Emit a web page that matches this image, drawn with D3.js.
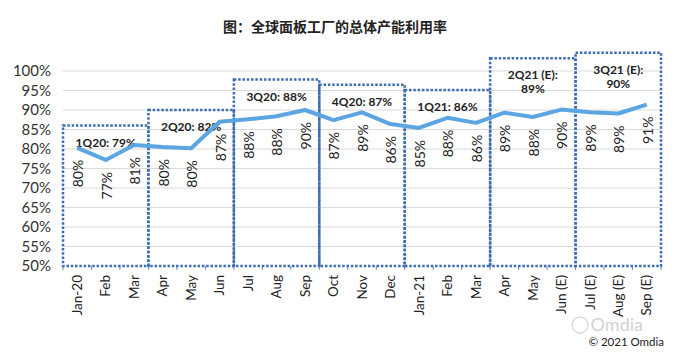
<!DOCTYPE html>
<html>
  <head>
    <meta charset="utf-8">
    <title>全球面板工厂的总体产能利用率</title>
    <script src="https://d3js.org/d3.v7.min.js"></script>
    <style>
      body { margin: 0; background: #fff; }
      svg { display: block; }
    </style>
  </head>
  <body>
    <script>
      // monthly utilisation
      const months = ['Jan-20', 'Feb', 'Mar', 'Apr', 'May', 'Jun', 'Jul', 'Aug', 'Sep', 'Oct', 'Nov', 'Dec',
                      'Jan-21', 'Feb', 'Mar', 'Apr', 'May', 'Jun (E)', 'Jul (E)', 'Aug (E)', 'Sep (E)'];
      const utilisation = [80.3, 77.2, 81, 80.5, 80.2, 87, 87.6, 88.4, 90, 87.4, 89.4, 86.4,
                           85.4, 88, 86.7, 89.3, 88.2, 90.1, 89.4, 89.1, 91.4];
      const pointLabels = ['80%', '77%', '81%', '80%', '80%', '87%', '88%', '88%', '90%', '87%', '89%', '86%',
                           '85%', '88%', '86%', '89%', '88%', '90%', '89%', '89%', '91%'];
      const quarterLabels = [['1Q20: 79%'], ['2Q20: 82%'], ['3Q20: 88%'], ['4Q20: 87%'], ['1Q21: 86%'],
                             ['2Q21 (E):', '89%'], ['3Q21 (E):', '90%']];
      const quarterTops = [86, 90, 97.8, 96.5, 95.1, 103.3, 104.7];
      const yTicks = [50, 55, 60, 65, 70, 75, 80, 85, 90, 95, 100];

      const w = 679, h = 352;
      const plotLeft = 63, plotRight = 661, plotTop = 71, plotBottom = 266;
      const boxColor = '#3d6db3';
      const lineColor = '#5aa5e2';
      const font = 'Lato, "Noto Sans", sans-serif';

      const svg = d3.select('body').append('svg')
                    .attr('width', w)
                    .attr('height', h);

      const idx = months.map((m, i) => i);
      const xScale = d3.scaleBand().domain(idx).range([plotLeft, plotRight]);
      const yScale = d3.scaleLinear().domain([50, 100]).range([plotBottom, plotTop]);

      // title
      svg.append('text')
         .attr('x', 335).attr('y', 32)
         .attr('text-anchor', 'middle')
         .style('font-family', '"Noto Sans CJK SC", sans-serif')
         .style('font-weight', 'bold')
         .style('font-size', '14px')
         .style('fill', '#222')
         .text('图：全球面板工厂的总体产能利用率');

      // gridlines
      svg.append('g').selectAll('line')
         .data(yTicks.slice(1))
         .enter().append('line')
         .attr('x1', plotLeft).attr('x2', plotRight)
         .attr('y1', d => yScale(d)).attr('y2', d => yScale(d))
         .attr('stroke', '#dadada').attr('stroke-width', 1);

      // y axis
      const yAxis = d3.axisLeft(yScale).tickValues(yTicks).tickFormat(d => d + '%').tickSize(0).tickPadding(12);
      const yG = svg.append('g').attr('transform', `translate(${plotLeft}, 0)`).call(yAxis);
      yG.select('.domain').remove();
      yG.selectAll('text').style('font-family', font).style('font-size', '15px').style('fill', '#333');

      // x axis ticks at category edges
      const edges = idx.map(i => xScale(i)).concat([plotRight]);
      svg.append('g').selectAll('line')
         .data(edges)
         .enter().append('line')
         .attr('x1', d => d).attr('x2', d => d)
         .attr('y1', plotBottom).attr('y2', plotBottom + 4)
         .attr('stroke', '#6b8fc4').attr('stroke-width', 1);

      const xAxis = d3.axisBottom(xScale).tickFormat(i => months[i]).tickSize(0);
      const xG = svg.append('g').attr('transform', `translate(0, ${plotBottom})`).call(xAxis);
      xG.select('.domain').remove();
      xG.selectAll('text')
        .attr('transform', 'rotate(-90)')
        .attr('x', -9).attr('y', 0).attr('dy', '0.35em')
        .attr('text-anchor', 'end')
        .style('font-family', font).style('font-size', '13.5px').style('fill', '#222');

      // quarter boxes
      const boxes = svg.append('g');
      quarterTops.forEach((t, q) => {
        const x0 = xScale(q * 3);
        const x1 = xScale(q * 3 + 2) + xScale.bandwidth();
        boxes.append('rect')
             .attr('x', x0).attr('y', yScale(t))
             .attr('width', x1 - x0).attr('height', plotBottom - yScale(t))
             .attr('fill', 'none')
             .attr('stroke', boxColor)
             .attr('stroke-width', 2.5)
             .attr('stroke-dasharray', '2.5,1.8');
        const label = boxes.append('text')
             .attr('x', (x0 + x1) / 2)
             .attr('y', yScale(t) + 21)
             .attr('text-anchor', 'middle')
             .style('font-family', font).style('font-weight', 'bold')
             .style('font-size', '12px').style('fill', '#222');
        quarterLabels[q].forEach((s, k) => {
          label.append('tspan').attr('x', (x0 + x1) / 2).attr('dy', k ? 14 : 0).text(s);
        });
      });

      // line
      const line = d3.line()
                     .x(i => xScale(i) + xScale.bandwidth() / 2)
                     .y(i => yScale(utilisation[i]));
      svg.append('path')
         .datum(idx)
         .attr('d', line)
         .attr('fill', 'none')
         .attr('stroke', lineColor)
         .attr('stroke-width', 4)
         .attr('stroke-linejoin', 'round');

      // point labels, rotated under each point
      svg.append('g').selectAll('text')
         .data(idx)
         .enter().append('text')
         .attr('transform', i => `translate(${xScale(i) + xScale.bandwidth() / 2 + 1}, ${yScale(utilisation[i]) + 12}) rotate(-90)`)
         .attr('dy', '0.35em')
         .attr('text-anchor', 'end')
         .style('font-family', font).style('font-size', '14px').style('fill', '#222')
         .text(i => pointLabels[i]);

      // watermark + credit
      svg.append('text')
         .attr('x', 643).attr('y', 331)
         .attr('text-anchor', 'end')
         .style('font-family', font).style('font-size', '18px').style('fill', '#d2d2d2')
         .text('Omdia');
      svg.append('circle')
         .attr('cx', 580).attr('cy', 325).attr('r', 8)
         .attr('fill', 'none').attr('stroke', '#dcdcdc').attr('stroke-width', 1.5);
      svg.append('text')
         .attr('x', 664).attr('y', 346)
         .attr('text-anchor', 'end')
         .style('font-family', font).style('font-size', '11.5px').style('fill', '#222')
         .text('© 2021 Omdia');
    </script>
  </body>
</html>
